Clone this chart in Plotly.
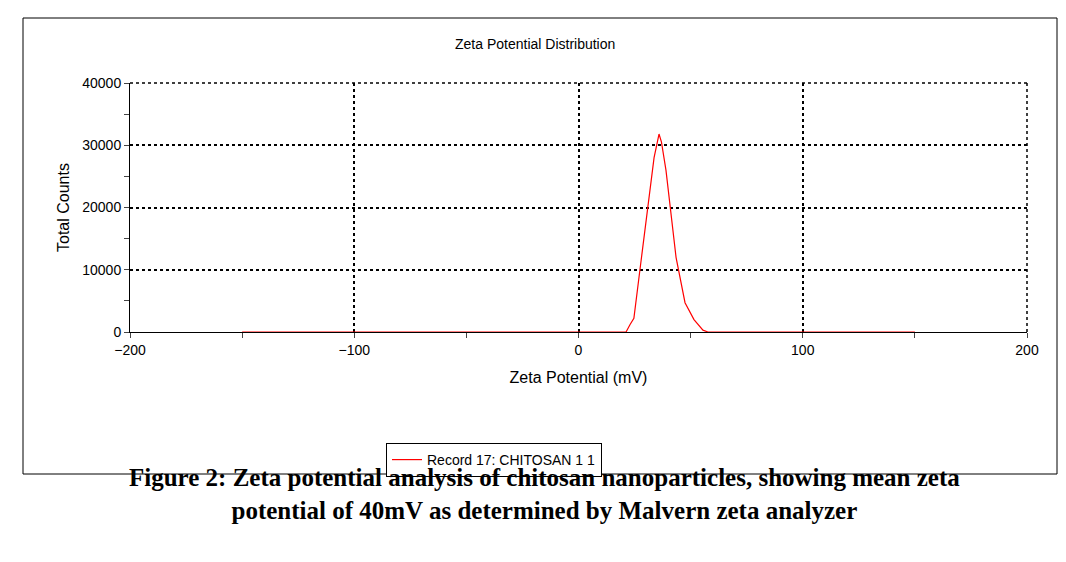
import plotly.graph_objects as go

# zeta potential (mV) vs total counts
zeta = [-150, 20, 21.2, 23, 24.7, 27.4, 31, 33.7, 35.9, 37, 39, 41.5, 43.5, 47.5, 51.5, 55.5, 57.7, 150]
counts = [0, 0, 0, 1200, 2200, 10000, 20000, 28000, 31800, 30500, 26000, 18000, 12000, 4700, 2000, 300, 0, 0]

fig = go.Figure()
fig.add_trace(go.Scatter(x=zeta, y=counts, mode='lines', line=dict(color='red', width=1.2),
                         name='Record 17: CHITOSAN 1 1'))

W, H = 1066, 562
L, R, T, B = 122, 1019, 75, 324

def fx(x): return (x - L) / (R - L)
def fy(y): return (B - y) / (B - T)

dot = dict(color='black', width=1.5, dash='dot')

fig.update_layout(
    width=W, height=H, paper_bgcolor='white', plot_bgcolor='white',
    margin=dict(l=L, r=W - R, t=T, b=H - B, autoexpand=False),
    font=dict(family='Arial, Liberation Sans', size=13, color='black'),
    showlegend=True,
    legend=dict(x=fx(378), y=fy(435), xanchor='left', yanchor='top', xref='paper', yref='paper',
                bordercolor='black', borderwidth=1, font=dict(size=14)),
    xaxis=dict(range=[-200, 200], tickvals=[-200, -100, 0, 100, 200], showgrid=True,
               gridcolor='black', griddash='dot', gridwidth=1.5, zeroline=False, automargin=False,
               showline=True, linecolor='black', ticks='outside', ticklen=5,
               minor=dict(tickvals=[-150, -50, 50, 150], ticks='outside', ticklen=5, showgrid=False),
               title=dict(text='Zeta Potential (mV)', standoff=15), tickfont=dict(size=14)),
    yaxis=dict(range=[0, 40000], tickvals=[0, 10000, 20000, 30000, 40000], tickformat='d',
               showgrid=True, automargin=False,
               gridcolor='black', griddash='dot', gridwidth=1.5, zeroline=False,
               showline=True, linecolor='black', ticks='outside', ticklen=5,
               minor=dict(tickvals=[5000, 15000, 25000, 35000], ticks='outside', ticklen=5, showgrid=False),
               title=dict(text='Total Counts', standoff=8), tickfont=dict(size=14)),
    shapes=[
        dict(type='rect', xref='paper', yref='paper', x0=fx(15), x1=fx(1049), y0=fy(466), y1=fy(10),
             line=dict(color='black', width=1)),
        dict(type='line', xref='paper', yref='paper', x0=0, x1=1, y0=1, y1=1, line=dot),
        dict(type='line', xref='paper', yref='paper', x0=1, x1=1, y0=0, y1=1, line=dot),
    ],
    annotations=[
        dict(text='Zeta Potential Distribution', xref='paper', yref='paper',
             x=fx(527), y=fy(26), showarrow=False, font=dict(size=14)),
        dict(text='<b>Figure 2: Zeta potential analysis of chitosan nanoparticles, showing mean zeta<br>'
                  'potential of 40mV as determined by Malvern zeta analyzer</b>',
             xref='paper', yref='paper', x=fx(536), y=fy(518), showarrow=False,
             font=dict(family='Liberation Serif', size=25)),
    ],
)
fig.write_html("out.html")
